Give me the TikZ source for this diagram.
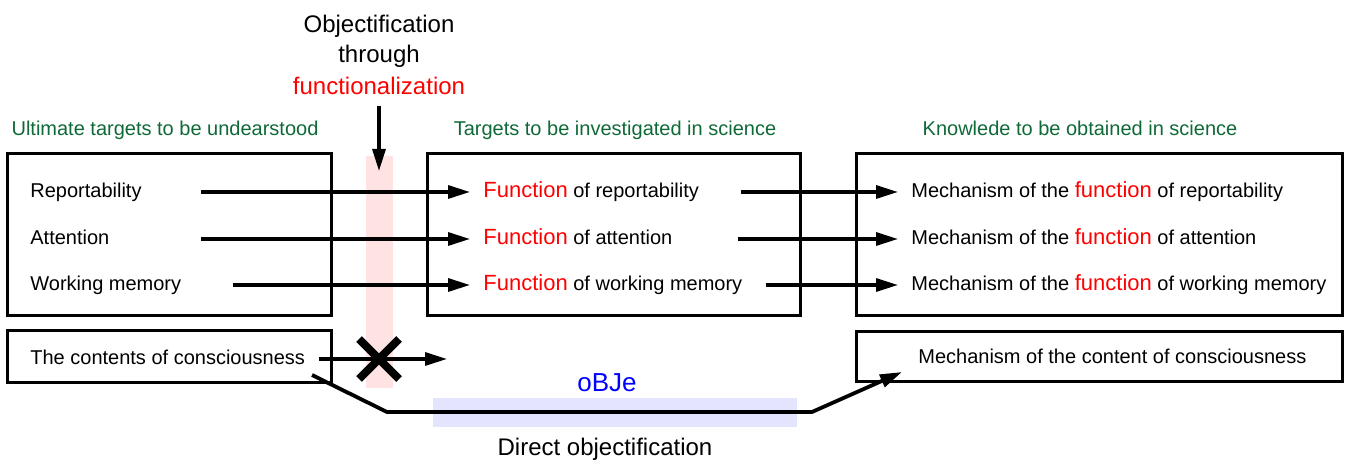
\documentclass[tikz,border=0pt]{standalone}
\usepackage{fontspec}
\setmainfont{Liberation Sans}
\usetikzlibrary{arrows.meta}
\definecolor{tgtgreen}{RGB}{15,105,55}
\definecolor{bandpink}{RGB}{255,226,226}
\definecolor{bandblue}{RGB}{228,228,255}
\newcommand{\redword}[1]{{\fontsize{11}{12}\selectfont\color{red}#1}}

\begin{document}
\begin{tikzpicture}[x=0.5pt, y=-0.5pt,
    box/.style={draw, line width=1.5pt},
    arr/.style={-{Triangle[length=11pt, width=6.5pt]}, line width=1.6pt},
    item/.style={inner sep=0pt, anchor=mid west, font=\fontsize{10}{12}\selectfont},
    head/.style={inner sep=0pt, anchor=base, text=tgtgreen, font=\fontsize{10}{12}\selectfont},
    big/.style={inner sep=0pt, anchor=base, font=\fontsize{12}{14}\selectfont}]
    \useasboundingbox (0,0) rectangle (1349,464);

    % --- 帯 ---
    \fill[bandpink] (366,156) rectangle (393,388);
    \fill[bandblue] (433,398) rectangle (797,427);

    % --- 見出し ---
    \node[head] (h1) at (165,136) {Ultimate targets to be undearstood};
    \node[head] (h2) at (615,136) {Targets to be investigated in science};
    \node[head] (h3) at (1080,136) {Knowlede to be obtained in science};

    \node[big] (obj1) at (379,33) {Objectification};
    \node[big] (obj2) at (379,63) {through};
    \node[big, text=red] (obj3) at (379,95) {functionalization};
    \coordinate (downtip) at (379,171);
    \draw[arr] ([yshift=-5pt]obj3.south) -- (downtip);

    % --- 枠 ---
    \draw[box] (7,154) rectangle (331,316);
    \draw[box] (427,154) rectangle (800,316);
    \draw[box] (856,154) rectangle (1342,316);
    \draw[box] (7,331) rectangle (331,383);
    \draw[box] (856,332) rectangle (1342,382);

    % --- 項目 ---
    \node[item] (rep) at (30,192) {Reportability};
    \node[item] (att) at (30,239) {Attention};
    \node[item] (wm) at (30,285) {Working memory};
    \node[item] (cons) at (30,359) {The contents of consciousness};

    \node[item] (frep) at (483,192) {\redword{Function} of reportability};
    \node[item] (fatt) at (483,239) {\redword{Function} of attention};
    \node[item] (fwm) at (483,285) {\redword{Function} of working memory};

    \node[item] (mrep) at (911,192) {Mechanism of the \redword{function} of reportability};
    \node[item] (matt) at (911,239) {Mechanism of the \redword{function} of attention};
    \node[item] (mwm) at (911,285) {Mechanism of the \redword{function} of working memory};
    \node[item] (mcons) at (918,358) {Mechanism of the content of consciousness};

    % --- 矢印 ---
    \foreach \a/\b/\s in {rep/frep/29.5, att/fatt/45.5, wm/fwm/25.5} {
        \draw[arr] ([xshift=\s pt]\a.mid east) -- ([xshift=-6.5pt]\b.mid west);
    }
    \foreach \a/\b/\s in {frep/mrep/21, fatt/matt/32.5, fwm/mwm/11.5} {
        \draw[arr] ([xshift=\s pt]\a.mid east) -- ([xshift=-6.5pt]\b.mid west);
    }

    % 機能化を経ない経路
    \coordinate (blocked) at (379,359);
    \coordinate (stopped) at (447,359);
    \draw[arr] ([xshift=7pt]cons.mid east) -- (stopped);
    \draw[line width=4pt] ([shift={(-20,-20)}]blocked) -- ([shift={(20,20)}]blocked)
        ([shift={(-20,20)}]blocked) -- ([shift={(20,-20)}]blocked);

    % --- 直接の客観化 ---
    \coordinate (dstart) at (312,375);
    \coordinate (dtip) at (902,372);
    \draw[arr, line width=1.9pt] (dstart) -- (387,412) -- (812,412) -- (dtip);
    \node[big, text=blue, font=\fontsize{13}{15}\selectfont] (obje) at (607,392) {oBJe};
    \node[big] (direct) at (605,456) {Direct objectification};

\end{tikzpicture}
\end{document}
